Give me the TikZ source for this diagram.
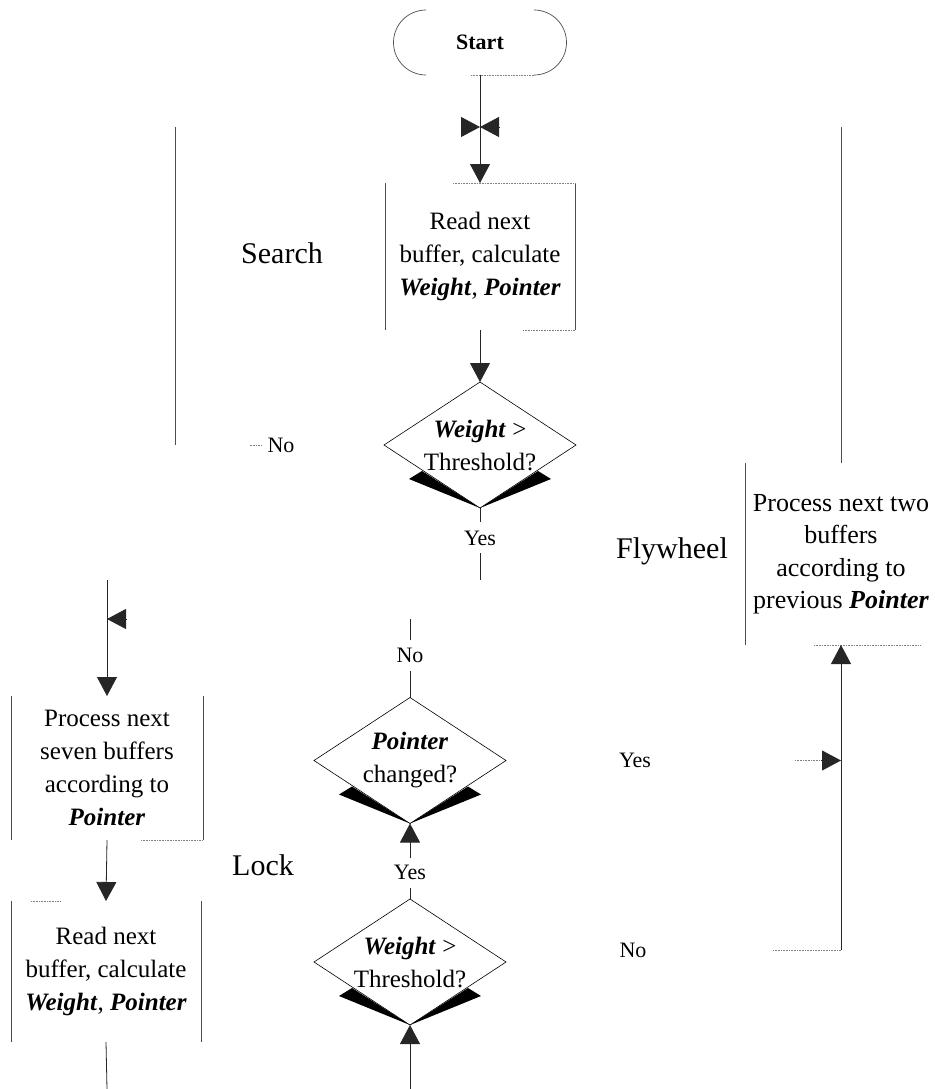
\documentclass[tikz,border=0pt]{standalone}
\usepackage{fontspec}
\setmainfont{Liberation Serif}
\usetikzlibrary{arrows.meta,calc,shapes.geometric}
\begin{document}
\begin{tikzpicture}[x=1pt,y=-1pt,
  every node/.style={inner sep=0pt,outer sep=0pt},
  boxtext/.style={align=center,font=\fontsize{25}{33}\selectfont},
  fwtext/.style={align=center,font=\fontsize{26}{32.5}\selectfont},
  grp/.style={font=\fontsize{30}{36}\selectfont},
  yn/.style={font=\fontsize{22}{26}\selectfont},
  dia/.style={diamond,draw,line width=0.6pt,minimum width=192pt,minimum height=126pt},
  dtext/.style={align=center,font=\fontsize{25}{33}\selectfont},
  conn/.style={line width=0.8pt,black!85},
  arrowed/.style={-{Triangle[width=20pt,length=19pt]}},
  bedge/.style={line width=0.7pt,black!70},
  faint/.style={line width=0.6pt,black!50,densely dotted},
  wedge/.style={fill=black}
]
\useasboundingbox (0,0) rectangle (934,1089);

% ---------- Start ----------
\node[font=\bfseries\fontsize{22}{26}\selectfont,minimum width=108pt,minimum height=65pt] (start) at (480,42.5) {Start};
\draw[bedge] (start.north east) arc[start angle=90,end angle=-90,radius=32.5pt];
\draw[bedge] (start.south west) arc[start angle=270,end angle=90,radius=32.5pt];
\draw[faint] ($(start.south)+(-9,0)$) -- (start.south east);

% ---------- Search block ----------
\node[grp] (search) at (282,253) {Search};
\node[boxtext,minimum width=190pt,minimum height=147pt] (b1) at (480,256.5)
  {Read next\\buffer, calculate\\\textbf{\textit{Weight}}, \textbf{\textit{Pointer}}};
\draw[bedge] (b1.north west) -- (b1.south west);
\draw[bedge] (b1.north east) -- (b1.south east);
\draw[faint] ($(b1.north east)+(-122,0)$) -- (b1.north east);
\draw[faint] ($(b1.south east)+(-52,0)$) -- (b1.south east);

\coordinate (bowL) at (461,127);
\coordinate (bow)  at (480,127);
\coordinate (bowR) at (499,127);
\draw[conn,arrowed] (start.south) -- (b1.north);
\draw[conn,arrowed] (bowL) -- (bow);
\draw[conn,arrowed] (bowR) -- (bow);

\node[dia] (d1) at (480,445) {};
\node[dtext] at (d1) {\textbf{\textit{Weight}} >\\Threshold?};
\fill[wedge] ($(d1.south)+(-71,-29)$) -- ($(d1.south)+(-58,-37)$) -- (d1.south) -- cycle;
\fill[wedge] ($(d1.south)+(71,-29)$) -- ($(d1.south)+(58,-37)$) -- (d1.south) -- cycle;
\draw[conn,arrowed] (b1.south) -- (d1.north);

% No branch of first test: back up on the left
\node[yn] (no1) at (281,445) {No};
\coordinate (lt) at (175,127);
\coordinate (lb) at (175,445);
\draw[bedge] (lt) -- (lb);
\draw[faint] ($(no1.west)+(-18,0)$) -- ($(no1.west)+(-6,0)$);

% Yes branch of first test: down to Lock
\node[yn] (yes1) at (480,538) {Yes};
\coordinate (y1end) at (480,580);
\draw[conn] (d1.south) -- ($(yes1)+(0,-16)$);
\draw[conn] ($(yes1)+(0,15)$) -- (y1end);

% ---------- Lock block ----------
\node[grp] (lock) at (263,865) {Lock};
\node[boxtext,minimum width=192pt,minimum height=144pt] (lbA) at (107,768)
  {Process next\\seven buffers\\according to\\\textbf{\textit{Pointer}}};
\draw[bedge] (lbA.north west) -- (lbA.south west);
\draw[bedge] (lbA.north east) -- (lbA.south east);
\draw[faint] ($(lbA.south east)+(-62,0)$) -- (lbA.south east);

\node[boxtext,minimum width=190pt,minimum height=141pt] (lbB) at (106,971.5)
  {Read next\\buffer, calculate\\\textbf{\textit{Weight}}, \textbf{\textit{Pointer}}};
\draw[bedge] (lbB.north west) -- (lbB.south west);
\draw[bedge] (lbB.north east) -- (lbB.south east);
\draw[faint] ($(lbB.north west)+(20,0)$) -- ($(lbB.north west)+(50,0)$);

\coordinate (la) at (107,580);
\coordinate (inA) at (107,619);
\coordinate (inAr) at (126,619);
\draw[conn,arrowed] (la) -- (lbA.north);
\draw[conn,arrowed] (inAr) -- (inA);
\draw[conn,arrowed] (lbA.south) -- (lbB.north);
\coordinate (bb) at (107,1089);
\draw[conn] (lbB.south) -- (bb);

\node[dia] (d2) at (410,760.5) {};
\node[dtext] at (d2) {\textbf{\textit{Pointer}}\\changed?};
\fill[wedge] ($(d2.south)+(-71,-29)$) -- ($(d2.south)+(-58,-37)$) -- (d2.south) -- cycle;
\fill[wedge] ($(d2.south)+(71,-29)$) -- ($(d2.south)+(58,-37)$) -- (d2.south) -- cycle;

\node[dia] (d3) at (410,962) {};
\node[dtext] at (d3) {\textbf{\textit{Weight}} >\\Threshold?};
\fill[wedge] ($(d3.south)+(-71,-29)$) -- ($(d3.south)+(-58,-37)$) -- (d3.south) -- cycle;
\fill[wedge] ($(d3.south)+(71,-29)$) -- ($(d3.south)+(58,-37)$) -- (d3.south) -- cycle;

\coordinate (b3) at (410,1089);
\draw[conn,arrowed] (b3) -- (d3.south);
\node[yn] (yes2) at (410,872) {Yes};
\draw[conn] (d3.north) -- ($(yes2)+(0,16)$);
\draw[conn,arrowed] ($(yes2)+(0,-14)$) -- (d2.south);
\node[yn] (no2) at (410,655) {No};
\coordinate (n2top) at (410,619);
\draw[conn] (d2.north) -- ($(no2)+(0,16)$);
\draw[conn] ($(no2)+(0,-15)$) -- (n2top);

% ---------- Flywheel block ----------
\node[grp] (fly) at (672,551) {Flywheel};
\node[fwtext,minimum width=192pt,minimum height=182pt] (fw) at (841,554)
  {Process next two\\buffers\\according to\\previous \textbf{\textit{Pointer}}};
\draw[bedge] (fw.north west) -- (fw.south west);
\draw[faint] ($(fw.south west)+(69,0)$) -- ($(fw.south east)+(-16,0)$);
\coordinate (rt) at (841,127);
\draw[bedge] (fw.north) -- (rt);

\node[yn] (yes3) at (635,760.5) {Yes};
\coordinate (jy) at (841,760.5);
\coordinate (jyl) at (821,760.5);
\draw[faint] ($(jyl)+(-26,0)$) -- (jyl);
\draw[conn,arrowed] (jyl) -- (jy);

\node[yn] (no3) at (633,950) {No};
\coordinate (jn) at (841,950);
\draw[faint] ($(jn)+(-68,0)$) -- (jn);
\draw[conn,arrowed] (jn) -- (fw.south);
\end{tikzpicture}
\end{document}
